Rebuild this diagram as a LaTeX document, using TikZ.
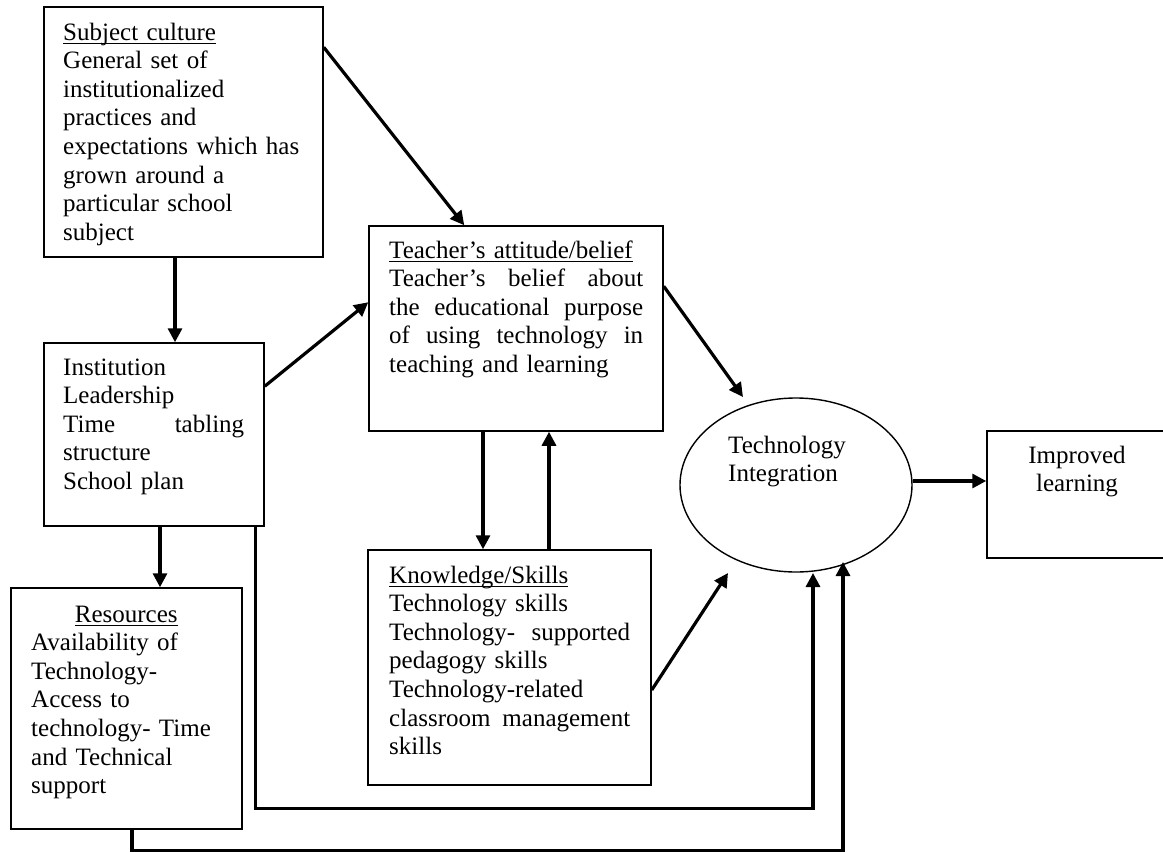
\documentclass[tikz,border=0pt]{standalone}
\usepackage{fontspec}
\setmainfont{Liberation Serif}
\usetikzlibrary{arrows.meta,shapes.geometric}
\newcommand{\myul}[1]{\setbox0\hbox{#1}\rlap{\rule[-3.8pt]{\wd0}{1.3pt}}\box0}
\newcommand{\jline}[2]{\leavevmode\hbox to #1{#2}}
\begin{document}
\begin{tikzpicture}[x=1pt,y=-1pt,
  box/.style={draw, line width=1.5pt, inner sep=0pt},
  txt/.style={inner sep=0pt, anchor=base west, align=left, font=\fontsize{25}{28.6}\selectfont},
  arr/.style={line width=3.2pt, -{Triangle[length=14pt,width=14pt]}}]
\useasboundingbox (0,0) rectangle (1163,852);
\clip (0,0) rectangle (1163,852);
\fill[white] (0,0) rectangle (1163,852);

% boxes
\node[box, minimum width=279pt, minimum height=250pt] (sc) at (183.5,132) {};
\node[box, minimum width=294pt, minimum height=205pt] (tb) at (516,328.5) {};
\node[box, minimum width=220pt, minimum height=183pt] (inst) at (154,434.5) {};
\node[box, minimum width=231pt, minimum height=241pt] (res) at (126.5,708.5) {};
\node[box, minimum width=283pt, minimum height=235pt] (ks) at (509.5,667.5) {};
\node[draw, ellipse, line width=1.4pt, minimum width=232pt, minimum height=174pt, inner sep=0pt] (ti) at (796,485) {};
\node[box, minimum width=188pt, minimum height=127pt] (il) at (1081,494.5) {};

% texts
\node[txt, text width=245pt] (sct) at (63,40) {\myul{Subject culture}\\General set of\\institutionalized\\practices and\\expectations which has\\grown around a\\particular school\\subject};
\node[txt, text width=254pt] (tbt) at (389,258) {\myul{Teacher’s attitude/belief}\\\jline{254pt}{Teacher’s\hfill belief\hfill about}\\\jline{254pt}{the\hfill educational\hfill purpose}\\\jline{254pt}{of\hfill using\hfill technology\hfill in}\\teaching and learning};
\node[txt, text width=181pt] (instt) at (63,375) {Institution\\Leadership\\\jline{181pt}{Time\hfill tabling}\\structure\\School plan};
\node[txt, text width=190pt] (rest) at (31,622) {\jline{190pt}{\hfill\myul{Resources}\hfill}\\Availability of\\Technology-\\Access to\\technology- Time\\and Technical\\support};
\node[txt, text width=241pt] (kst) at (389,583) {\myul{Knowledge/Skills}\\Technology skills\\\jline{241pt}{Technology-\hfill supported}\\pedagogy skills\\Technology-related\\\jline{241pt}{classroom\hfill management}\\skills};
\node[txt, text width=200pt] (tit) at (728,453) {Technology\\Integration};
\node[txt, text width=160pt, anchor=base, align=center] (ilt) at (1077,463) {Improved\\learning};

% connectors
\draw[arr] ([yshift=-41pt]sc.north east) -- ([xshift=96pt]tb.north west);
\draw[arr] ([xshift=-8.5pt]sc.south) -- ([xshift=-8.5pt]sc.south |- inst.north);
\draw[arr] ([yshift=-44pt]inst.north east) -- ([yshift=-77pt]tb.north west);
\draw[arr] ([xshift=6pt]inst.south) -- ([xshift=6pt]inst.south |- res.north);
\draw[arr] ([xshift=-33pt]tb.south) -- ([xshift=-33pt]tb.south |- ks.north);
\draw[arr] ([xshift=33pt]tb.south |- ks.north) -- ([xshift=33pt]tb.south);
\draw[arr] ([yshift=-61pt]tb.north east) -- ([shift={(-53pt,88pt)}]ti.center);
\draw[arr] ([yshift=-22.5pt]ks.east) -- ([shift={(-68pt,-88pt)}]ti.center);
\draw[arr] ([xshift=-9pt]inst.south east) -- ++(0,282) -| ([shift={(17pt,-88pt)}]ti.center);
\draw[arr] ([xshift=5.5pt]res.south) -- ++(0,21) -| ([shift={(47pt,-77pt)}]ti.center);
\draw[arr] ([yshift=4pt]ti.east) -- ([yshift=4pt]ti.east -| il.west);
\end{tikzpicture}
\end{document}
